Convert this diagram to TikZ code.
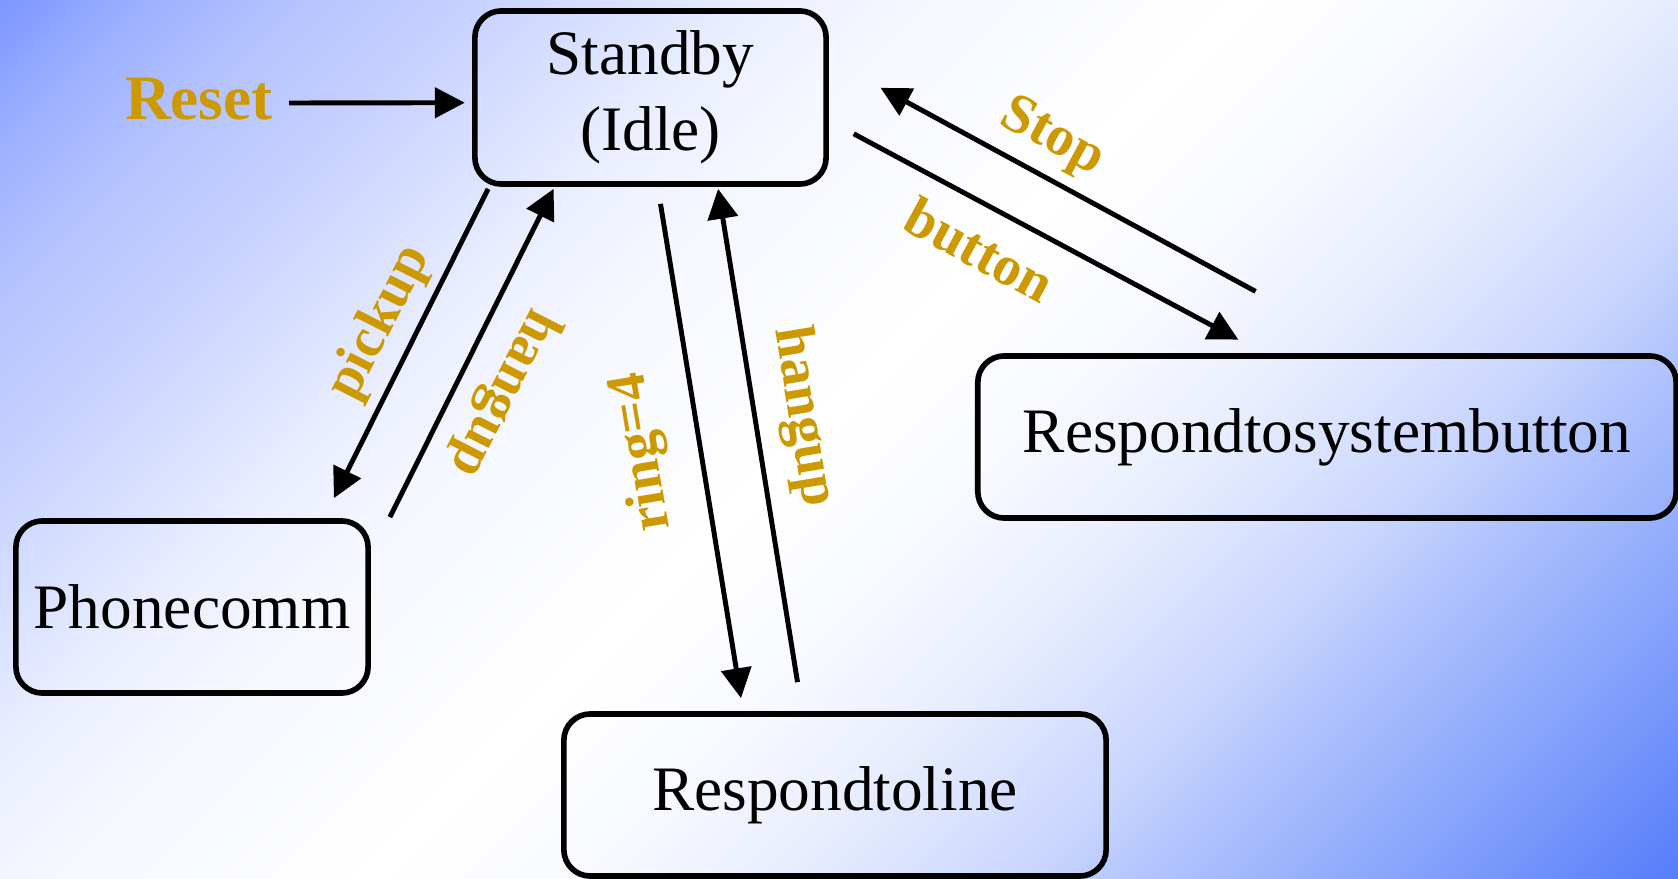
\documentclass[tikz,border=0pt]{standalone}
\usepackage{fontspec}
\setmainfont{Liberation Serif}
\usepackage{xcolor}
\usepackage{tikz}
\usetikzlibrary{
  arrows.meta,
  positioning,
  calc
}
\definecolor{evgold}{RGB}{204,153,0}
\definecolor{bgtl}{RGB}{125,150,255}
\definecolor{bgbr}{RGB}{85,125,250}
% diagonal background: blue corners, wide white band in between
\pgfdeclareverticalshading{bgdiag}{100bp}{
  color(0bp)=(bgbr); color(25bp)=(bgbr);
  color(31bp)=(bgbr!68!white); color(35.7bp)=(bgbr!44!white);
  color(37.8bp)=(bgbr!32!white); color(42.7bp)=(bgbr!13!white);
  color(46.6bp)=(bgbr!4!white); color(50.6bp)=(white);
  color(57.4bp)=(bgtl!8!white); color(60.3bp)=(bgtl!17!white);
  color(65.4bp)=(bgtl!42!white); color(69.1bp)=(bgtl!57!white);
  color(72.1bp)=(bgtl!75!white);
  color(75bp)=(bgtl); color(100bp)=(bgtl)}
\tikzset{
  trans/.style    = {-{Triangle[length=8.5pt, width=8.5pt]}, line width=1.4pt},
  statebox/.style = {draw, line width=1.6pt, rounded corners=7.5pt,
                     align=center, inner sep=0pt,
                     font=\fontsize{18}{21.5}\selectfont},
  evlabel/.style  = {text=evgold, inner sep=1pt,
                     font=\bfseries\fontsize{16}{19}\selectfont},
}

\begin{document}
\begin{tikzpicture}[x=0.01cm, y=-0.01cm]

    % Background
    \useasboundingbox (0,0) rectangle (1678,879);
    \begin{scope}
        \clip (0,0) rectangle (1678,879);
        \shade[shading=bgdiag,
               transform canvas={shift={(839,439.5)}, rotate=45}]
            (-1300,-904) rectangle (1300,904);
    \end{scope}

    % States
    \node[statebox, minimum width=3.51cm, minimum height=1.73cm]
        (standby) at (650.5,97.5) {Standby\\(Idle)};
    \node[statebox, minimum width=3.52cm, minimum height=1.72cm]
        (phonecomm) at (192,607) {Phonecomm};
    \node[statebox, minimum width=5.42cm, minimum height=1.62cm]
        (respline) at (835,795) {Respondtoline};
    \node[statebox, minimum width=6.98cm, minimum height=1.62cm]
        (respbutton) at (1327,437) {Respondtosystembutton};

    % Reset
    \node[evlabel, font=\bfseries\fontsize{18}{21}\selectfont]
        (reset) at (199,99) {Reset};
    \draw[trans] ($(reset.east)+(12,4)$) -- ($(standby.west)+(-7.3,5.2)$);

    % Standby <-> Phonecomm
    \draw[trans] ($(standby.south west)+(16,2)$) -- ($(phonecomm.north east)+(-37,-20)$);
    \draw[trans] ($(phonecomm.north east)+(19,-1)$) -- ($(standby.south west)+(81.5,2)$);
    \node[evlabel, rotate=63] (pickup) at (380,323) {pickup};
    \node[evlabel, rotate=243] (hangupa) at (503,393) {hangup};

    % Standby <-> Respondtoline
    \draw[trans] ($(standby.south)+(10,17)$) -- ($(respline.north west)+(180,-13)$);
    \draw[trans] ($(respline.north west)+(236.5,-29)$) -- ($(standby.south)+(67.6,2)$);
    \node[evlabel, rotate=99.5] (ring) at (643,452) {ring=4};
    \node[evlabel, rotate=-80.6] (hangupb) at (803,417) {hangup};

    % Standby <-> Respondtosystembutton
    \draw[trans] ($(respbutton.north west)+(280.6,-61.7)$) -- ($(standby.east)+(51.6,-9.7)$);
    \draw[trans] ($(standby.east)+(24.8,36.3)$) -- ($(respbutton.north west)+(263.4,-13.5)$);
    \node[evlabel, rotate=-28.4] (stop) at (1052,138) {Stop};
    \node[evlabel, rotate=-28.4] (button) at (980,250) {button};

\end{tikzpicture}
\end{document}
